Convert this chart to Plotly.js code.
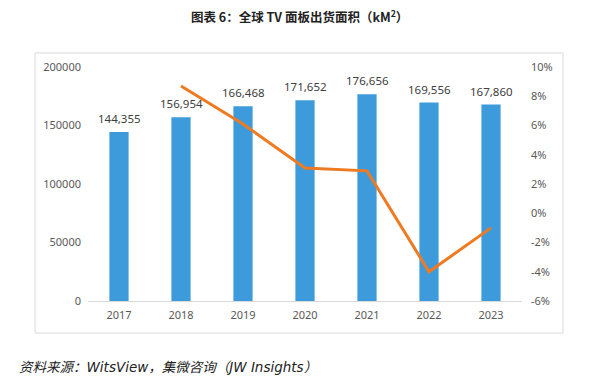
<!DOCTYPE html>
<html>
<head>
<meta charset="utf-8">
<script src="https://cdn.plot.ly/plotly-3.0.1.min.js"></script>
<style>html,body{margin:0;padding:0;background:#fff;}#chart{width:600px;height:385px;}</style>
</head>
<body>
<div id="chart"></div>
<script>
const years = ['2017', '2018', '2019', '2020', '2021', '2022', '2023'];
const shipmentArea = [144355, 156954, 166468, 171652, 176656, 169556, 167860];
const growthYears = ['2018', '2019', '2020', '2021', '2022', '2023'];
const growthPct = [8.7, 6.1, 3.1, 2.9, -4.0, -1.0];
const leftTicks = [0, 50000, 100000, 150000, 200000];
const rightTicks = [-6, -4, -2, 0, 2, 4, 6, 8, 10];

const tickFont = {family: '"Noto Sans", "Noto Sans CJK SC", sans-serif', size: 11, color: '#595959'};

const traces = [
  {
    type: 'bar', x: years, y: shipmentArea,
    marker: {color: '#3E9BDB'}, width: 0.31,
    hoverinfo: 'none', showlegend: false
  },
  {
    type: 'scatter', mode: 'lines', x: growthYears, y: growthPct, yaxis: 'y2',
    line: {color: '#EE7A22', width: 3}, cliponaxis: false,
    hoverinfo: 'none', showlegend: false
  }
];

const barLabels = years.map((yr, i) => ({
  x: i, y: shipmentArea[i], xref: 'x', yref: 'y',
  text: shipmentArea[i].toLocaleString('en-US'),
  showarrow: false, yanchor: 'bottom', yshift: 4,
  font: {family: '"Noto Sans", sans-serif', size: 11.5, color: '#404040'}
}));

const layout = {
  width: 600, height: 385,
  margin: {l: 88, r: 78, t: 67, b: 84},
  paper_bgcolor: '#ffffff', plot_bgcolor: '#ffffff',
  bargap: 0.69,
  xaxis: {
    type: 'category', categoryarray: years, range: [-0.5, years.length - 0.5],
    showgrid: false, zeroline: false,
    showline: true, linecolor: '#D9D9D9', linewidth: 1,
    ticks: '', tickfont: tickFont, ticklabelstandoff: 4
  },
  yaxis: {
    range: [0, 200000], tickvals: leftTicks, ticktext: leftTicks.map(String),
    showgrid: false, zeroline: false, showline: false, ticks: '',
    tickfont: tickFont, ticklabelstandoff: 6
  },
  yaxis2: {
    overlaying: 'y', side: 'right', range: [-6, 10], tickvals: rightTicks,
    ticktext: rightTicks.map(v => v + '%'),
    showgrid: false, zeroline: false, showline: false, ticks: '',
    tickfont: tickFont, ticklabelstandoff: 8
  },
  shapes: [{
    type: 'rect', xref: 'paper', yref: 'paper',
    x0: -0.122, x1: 1.0945, y0: -0.137, y1: 1.06,
    line: {color: '#D9D9D9', width: 1}, fillcolor: 'rgba(0,0,0,0)', layer: 'below'
  }],
  annotations: barLabels.concat([
    {
      xref: 'paper', yref: 'paper', x: 0.488, y: 1.215, xanchor: 'center', yanchor: 'middle',
      text: '<b>图表 6：全球 TV 面板出货面积（kM<sup style="font-size:70%">2</sup>）</b>', showarrow: false,
      font: {family: '"Noto Sans CJK SC", sans-serif', size: 12.5, color: '#222222'}
    },
    {
      xref: 'paper', yref: 'paper', x: -0.163, y: -0.282, xanchor: 'left', yanchor: 'middle',
      text: '<i>资料来源：WitsView，集微咨询（JW Insights）</i>', showarrow: false,
      font: {family: '"DejaVu Sans", "Noto Sans CJK SC", sans-serif', size: 13.5, color: '#222222'}
    }
  ])
};

Plotly.newPlot('chart', traces, layout, {staticPlot: true, displayModeBar: false});
</script>
</body>
</html>
